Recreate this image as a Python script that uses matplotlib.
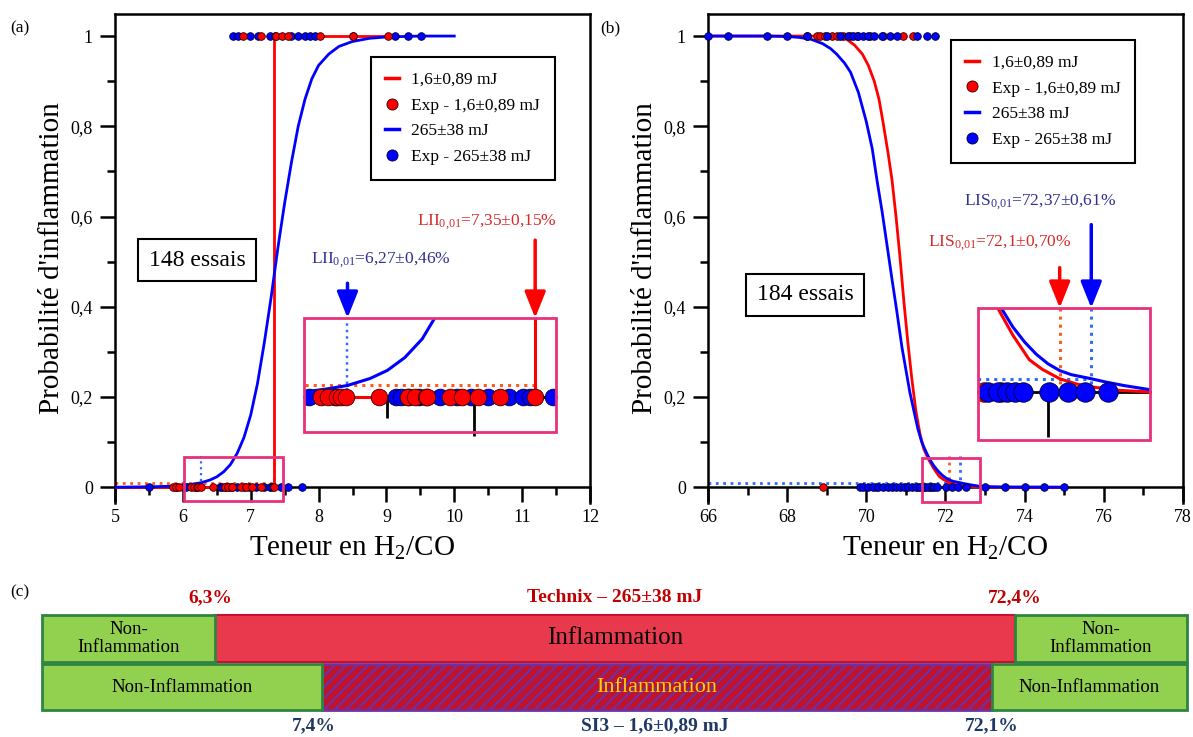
import matplotlib
matplotlib.use('Agg')
import matplotlib.pyplot as plt
from matplotlib.patches import Rectangle
from matplotlib.lines import Line2D
from matplotlib.ticker import MultipleLocator, FixedLocator

plt.rcParams['font.family'] = 'serif'
plt.rcParams['font.serif'] = ['Liberation Serif', 'DejaVu Serif']
plt.rcParams['mathtext.fontset'] = 'custom'
plt.rcParams['mathtext.rm'] = 'Liberation Serif'
plt.rcParams['mathtext.it'] = 'Liberation Serif:italic'
plt.rcParams['mathtext.bf'] = 'Liberation Serif:bold'
plt.rcParams['hatch.linewidth'] = 1.6

W, H = 1193, 737
RED = '#ff0000'
BLUE = '#0000ff'
ORANGE = '#ff5a1f'
LBLUE = '#2f6bff'
MAG = '#e8307c'

# ---------------- panel (a) : 148 essais ----------------
a_red_fit_x = [5.0, 7.35, 7.35, 9.0]
a_red_fit_y = [0.0, 0.0, 1.0, 1.0]
a_blue_fit_x = [5.0, 5.5, 5.8, 6.0, 6.15, 6.27, 6.4, 6.5, 6.6, 6.7, 6.8, 6.9, 7.0, 7.1,
                7.2, 7.3, 7.4, 7.5, 7.6, 7.7, 7.8, 7.9, 8.0, 8.15, 8.3, 8.5, 8.75, 9.0,
                9.5, 10.0]
a_blue_fit_y = [0.0, 0.001, 0.002, 0.004, 0.007, 0.01, 0.016, 0.023, 0.034, 0.05, 0.075,
                0.11, 0.16, 0.23, 0.32, 0.42, 0.53, 0.63, 0.72, 0.80, 0.86, 0.905, 0.935,
                0.96, 0.977, 0.988, 0.995, 0.998, 1.0, 1.0]
a_red_exp0 = [5.85, 5.9, 5.95, 6.12, 6.16, 6.21, 6.23, 6.26, 6.45, 6.62, 6.66, 6.72,
              6.73, 6.86, 6.93, 7.02, 7.15, 7.35]
a_red_exp1 = [6.89, 7.15, 7.37, 7.46, 7.55, 8.02, 8.51, 9.02]
a_blue_exp0 = [5.5, 5.9, 6.0, 6.05, 6.2, 6.55, 6.58, 6.62, 6.68, 6.8, 6.9, 6.98, 7.08,
               7.2, 7.28, 7.32, 7.45, 7.55, 7.75]
a_blue_exp1 = [6.74, 6.81, 6.99, 7.11, 7.28, 7.36, 7.6, 7.7, 7.8, 7.88, 7.95, 8.51,
               9.13, 9.32, 9.51]
a_lii_red = 7.35
a_lii_blue = 6.27

# ---------------- panel (b) : 184 essais ----------------
b_red_fit_x = [66.0, 69.0, 69.3, 69.5, 69.7, 69.9, 70.05, 70.2, 70.32, 70.42, 70.55,
               70.65, 70.75, 70.85, 70.95, 71.05, 71.15, 71.25, 71.35, 71.45, 71.57,
               71.7, 71.84, 71.95, 72.1, 72.25, 72.4, 72.6, 72.87, 73.3, 75.0]
b_red_fit_y = [1.0, 1.0, 0.998, 0.993, 0.98, 0.96, 0.935, 0.90, 0.86, 0.81, 0.74,
               0.68, 0.60, 0.51, 0.41, 0.32, 0.24, 0.17, 0.12, 0.085, 0.062,
               0.042, 0.024, 0.017, 0.01, 0.006, 0.0037, 0.0015, 0.0003, 0.0, 0.0]
b_blue_fit_x = [66.0, 67.5, 68.0, 68.3, 68.6, 68.9, 69.1, 69.25, 69.45, 69.6, 69.8,
                70.0, 70.15, 70.27, 70.4, 70.5, 70.65, 70.77, 70.9, 71.0, 71.1, 71.2,
                71.3, 71.4, 71.5, 71.6, 71.7, 71.8, 71.9, 72.0, 72.1, 72.2, 72.37,
                72.5, 72.65, 72.87, 73.2, 73.5, 75.0]
b_blue_fit_y = [1.0, 1.0, 0.999, 0.997, 0.993, 0.983, 0.972, 0.96, 0.94, 0.92, 0.875,
                0.81, 0.75, 0.68, 0.61, 0.55, 0.46, 0.39, 0.31, 0.26, 0.21, 0.17,
                0.13, 0.10, 0.08, 0.062, 0.048, 0.037, 0.028, 0.021, 0.016, 0.013, 0.01,
                0.0075, 0.005, 0.002, 0.001, 0.0005, 0.0]
b_red_exp0 = [68.9, 70.25, 71.0, 71.3, 71.45, 71.6]
b_red_exp1 = [68.5, 68.75, 68.83, 68.95, 69.13, 69.26, 69.41, 69.59, 69.76, 70.09,
              70.42, 70.92, 71.18]
b_blue_exp0 = [69.84, 69.92, 70.05, 70.18, 70.3, 70.42, 70.55, 70.65, 70.75, 70.85,
               70.95, 71.05, 71.15, 71.25, 71.35, 71.49, 71.57, 71.65, 71.72, 71.79,
               72.01, 72.17, 72.32, 72.51, 73.0, 73.5, 74.0, 74.5, 75.0]
b_blue_exp1 = [66.0, 66.5, 67.5, 68.0, 68.5, 69.0, 69.33, 69.53, 69.66, 69.78, 69.91,
               70.04, 70.2, 70.4, 70.6, 70.78, 71.28, 71.53, 71.73]
b_lis_red = 72.1
b_lis_blue = 72.37

p_level = 0.01
labels = ['1,6±0,89 mJ', 'Exp - 1,6±0,89 mJ', '265±38 mJ', 'Exp - 265±38 mJ']

# ---------------- panel (c) ----------------
c_top_text = ['Non-\nInflammation', 'Inflammation', 'Non-\nInflammation']
c_bot_text = ['Non-Inflammation', 'Inflammation', 'Non-Inflammation']
c_top_limits = ['6,3%', '72,4%']
c_bot_limits = ['7,4%', '72,1%']
c_top_title = 'Technix – 265±38 mJ'
c_bot_title = 'SI3 – 1,6±0,89 mJ'


def points(ax, xs, y, color, ms, clip):
    ax.plot(xs, [y] * len(xs), 'o', color=color, ms=ms, mec='#300000' if color == RED else '#000030',
            mew=0.6, clip_on=clip, zorder=4)


def draw_a(ax, ms, lw, clip=False):
    ax.plot([5.0, a_lii_red], [p_level, p_level], ':', color=ORANGE, lw=lw, zorder=2)
    ax.plot([a_lii_red, a_lii_red], [0, 0.07], ':', color=ORANGE, lw=lw, zorder=2)
    ax.plot([a_lii_blue, a_lii_blue], [0, 0.07], ':', color=LBLUE, lw=lw * 0.8, zorder=2)
    ax.plot(a_red_fit_x, a_red_fit_y, color=RED, lw=lw, zorder=3)
    ax.plot(a_blue_fit_x, a_blue_fit_y, color=BLUE, lw=lw, zorder=3)
    points(ax, a_blue_exp0, 0, BLUE, ms, clip)
    points(ax, a_blue_exp1, 1, BLUE, ms, clip)
    points(ax, a_red_exp0, 0, RED, ms, clip)
    points(ax, a_red_exp1, 1, RED, ms, clip)


def draw_b(ax, ms, lw, clip=False):
    ax.plot([66.0, b_lis_blue], [p_level, p_level], ':', color=LBLUE, lw=lw, zorder=2)
    ax.plot([b_lis_red, b_lis_red], [0, 0.07], ':', color=ORANGE, lw=lw, zorder=2)
    ax.plot([b_lis_blue, b_lis_blue], [0, 0.07], ':', color=LBLUE, lw=lw, zorder=2)
    ax.plot(b_red_fit_x, b_red_fit_y, color=RED, lw=lw, zorder=3)
    ax.plot(b_blue_fit_x, b_blue_fit_y, color=BLUE, lw=lw, zorder=3)
    points(ax, b_red_exp0, 0, RED, ms, clip)
    points(ax, b_red_exp1, 1, RED, ms, clip)
    points(ax, b_blue_exp0, 0, BLUE, ms, clip)
    points(ax, b_blue_exp1, 1, BLUE, ms, clip)


def style_main(ax, xlim, xmaj, xmin):
    ax.set_xlim(*xlim)
    ax.set_ylim(-0.035, 1.05)
    ax.spines['bottom'].set_position(('data', 0))
    for s in ax.spines.values():
        s.set_linewidth(1.8)
    ax.xaxis.set_major_locator(MultipleLocator(xmaj))
    ax.xaxis.set_minor_locator(MultipleLocator(xmin))
    ax.yaxis.set_major_locator(FixedLocator([0, 0.2, 0.4, 0.6, 0.8, 1.0]))
    ax.yaxis.set_minor_locator(FixedLocator([0.1, 0.3, 0.5, 0.7, 0.9]))
    ax.set_yticklabels(['0', '0,2', '0,4', '0,6', '0,8', '1'])
    ax.tick_params(which='major', direction='out', length=11, width=1.8, labelsize=13, pad=5)
    ax.tick_params(which='minor', direction='out', length=6, width=1.8)
    ax.tick_params(top=False, right=False, which='both')
    ax.set_ylabel("Probabilité d'inflammation", fontsize=21)
    ax.set_xlabel(r'Teneur en H$_2$/CO', fontsize=21)
    ax.yaxis.set_label_coords(-0.105, 0.5)
    ax.xaxis.set_label_coords(0.5, -0.064)


def style_inset(ax, xlim, ylim, xmaj, xmin, scale):
    ax.set_xlim(*xlim)
    ax.set_ylim(*ylim)
    for k in ['top', 'left', 'right']:
        ax.spines[k].set_visible(False)
    ax.spines['bottom'].set_position(('data', 0))
    ax.spines['bottom'].set_linewidth(2)
    ax.xaxis.set_major_locator(MultipleLocator(xmaj))
    ax.xaxis.set_minor_locator(MultipleLocator(xmin))
    ax.tick_params(which='major', direction='out', length=11 * scale, width=2, labelbottom=False)
    ax.tick_params(which='minor', direction='out', length=6 * scale, width=2)
    ax.set_yticks([])
    ax.add_patch(Rectangle((0, 0), 1, 1, transform=ax.transAxes, fill=False, ec=MAG, lw=2,
                           clip_on=False, zorder=10))


def legend(ax, anchor):
    handles = [Line2D([], [], color=RED, lw=2.5),
               Line2D([], [], ls='', marker='o', color=RED, ms=8, mec='#300000', mew=0.6),
               Line2D([], [], color=BLUE, lw=2.5),
               Line2D([], [], ls='', marker='o', color=BLUE, ms=8, mec='#000030', mew=0.6)]
    leg = ax.legend(handles, labels, loc='upper right', bbox_to_anchor=anchor, fontsize=12.5,
                    frameon=True, fancybox=False, edgecolor='black', framealpha=1,
                    handlelength=0.8, handletextpad=0.7, labelspacing=0.55, borderpad=0.85,
                    borderaxespad=0)
    leg.get_frame().set_linewidth(1.5)


def arrow(ax, x, length, color):
    ax.annotate('', xy=(x, 1.0), xycoords=(ax.transData, ax.transAxes),
                xytext=(0, length), textcoords='offset points', annotation_clip=False,
                arrowprops=dict(arrowstyle='-|>,head_length=0.8,head_width=0.32', color=color,
                                lw=2.5, mutation_scale=20, shrinkA=0, shrinkB=0), zorder=12)


def fx(x):
    return x / W


def fy(y):
    return 1 - y / H


fig = plt.figure(figsize=(W / 100, H / 100), dpi=100)

# ---- (a)
ax_a = fig.add_axes([fx(115), fy(503), 475 / W, 489.5 / H])
draw_a(ax_a, 5.5, 2.0)
style_main(ax_a, (5, 12), 1, 0.5)
legend(ax_a, (0.926, 0.911))
ax_a.add_patch(Rectangle((6.02, -0.03), 1.45, 0.098, fill=False, ec=MAG, lw=2, clip_on=False, zorder=6))
ax_a.text(0.173, 0.496, '148 essais', transform=ax_a.transAxes, fontsize=17, ha='center',
          va='center', bbox=dict(boxstyle='square,pad=0.45', fc='white', ec='black', lw=1.5))
in_a = ax_a.inset_axes([0.398, 0.145, 0.5305, 0.233])
draw_a(in_a, 12, 2.2, clip=True)
style_inset(in_a, (6.02, 7.47), (-0.03, 0.068), 1, 0.5, 2.56)
arrow(in_a, a_lii_blue, 25, BLUE)
arrow(in_a, a_lii_red, 56, RED)
fig.text(fx(487), fy(222), r'LII$_{0{,}01}$=7,35±0,15%', color='#d42a2a', fontsize=12.5,
         ha='center', va='center')
fig.text(fx(381), fy(260), r'LII$_{0{,}01}$=6,27±0,46%', color='#2e3192', fontsize=12.5,
         ha='center', va='center')

# ---- (b)
ax_b = fig.add_axes([fx(708), fy(503), 475 / W, 489.5 / H])
draw_b(ax_b, 5.5, 2.0)
style_main(ax_b, (66, 78), 2, 1)
legend(ax_b, (0.899, 0.946))
ax_b.add_patch(Rectangle((71.4, -0.033), 1.47, 0.097, fill=False, ec=MAG, lw=2, clip_on=False, zorder=6))
ax_b.text(0.204, 0.425, '184 essais', transform=ax_b.transAxes, fontsize=17, ha='center',
          va='center', bbox=dict(boxstyle='square,pad=0.45', fc='white', ec='black', lw=1.5))
in_b = ax_b.inset_axes([0.568, 0.1287, 0.362, 0.2697])
draw_b(in_b, 14, 2.2, clip=True)
style_inset(in_b, (71.4, 72.87), (-0.035, 0.062), 2, 1, 2.95)
arrow(in_b, b_lis_red, 29, RED)
arrow(in_b, b_lis_blue, 60, BLUE)
fig.text(fx(1040), fy(202), r'LIS$_{0{,}01}$=72,37±0,61%', color='#2e3192', fontsize=12.5,
         ha='center', va='center')
fig.text(fx(1000), fy(243), r'LIS$_{0{,}01}$=72,1±0,70%', color='#d42a2a', fontsize=12.5,
         ha='center', va='center')

fig.text(fx(10), fy(28), '(a)', fontsize=12.5, va='center')
fig.text(fx(600), fy(28), '(b)', fontsize=12.5, va='center')
fig.text(fx(10), fy(592), '(c)', fontsize=12.5, va='center')

# ---- (c)
ax_c = fig.add_axes([0, 0, 1, 1], zorder=-1)
ax_c.set_xlim(0, W)
ax_c.set_ylim(H, 0)
ax_c.axis('off')

GREEN = '#92d050'
GEDGE = '#2e8540'
top_edges = [42, 215, 1015, 1187]
bot_edges = [42, 322, 992, 1187]
top_row = (615, 662)
bot_row = (664, 710)

# top row
ax_c.add_patch(Rectangle((top_edges[1], top_row[0]), top_edges[2] - top_edges[1], top_row[1] - top_row[0],
                         fc='#e8394d', ec='#c8102e', lw=1.5))
for i in (0, 2):
    ax_c.add_patch(Rectangle((top_edges[i], top_row[0]), top_edges[i + 1] - top_edges[i],
                             top_row[1] - top_row[0], fc=GREEN, ec=GEDGE, lw=2))
for i in range(3):
    cx = (top_edges[i] + top_edges[i + 1]) / 2
    ax_c.text(cx, sum(top_row) / 2, c_top_text[i], ha='center', va='center',
              fontsize=18 if i == 1 else 13.5, linespacing=1.1, color='black')

# bottom row
ax_c.add_patch(Rectangle((bot_edges[1], bot_row[0]), bot_edges[2] - bot_edges[1], bot_row[1] - bot_row[0],
                         fc='#c0122c', ec='#7030a0', lw=2, hatch='///'))
for i in (0, 2):
    ax_c.add_patch(Rectangle((bot_edges[i], bot_row[0]), bot_edges[i + 1] - bot_edges[i],
                             bot_row[1] - bot_row[0], fc=GREEN, ec=GEDGE, lw=2))
for i in range(3):
    cx = (bot_edges[i] + bot_edges[i + 1]) / 2
    ax_c.text(cx, sum(bot_row) / 2, c_bot_text[i], ha='center', va='center',
              fontsize=16 if i == 1 else 13.5, color='#ffd400' if i == 1 else 'black')

ax_c.text(top_edges[1] - 5, 598, c_top_limits[0], ha='center', va='center', fontsize=14,
          fontweight='bold', color='#c00000')
ax_c.text(top_edges[2], 598, c_top_limits[1], ha='center', va='center', fontsize=14,
          fontweight='bold', color='#c00000')
ax_c.text(615, 598, c_top_title, ha='center', va='center', fontsize=14, fontweight='bold',
          color='#c00000')
ax_c.text(bot_edges[1] - 8, 726, c_bot_limits[0], ha='center', va='center', fontsize=14,
          fontweight='bold', color='#1f3864')
ax_c.text(bot_edges[2], 726, c_bot_limits[1], ha='center', va='center', fontsize=14,
          fontweight='bold', color='#1f3864')
ax_c.text(655, 726, c_bot_title, ha='center', va='center', fontsize=14, fontweight='bold',
          color='#1f3864')

fig.savefig('out.png', dpi=100)
